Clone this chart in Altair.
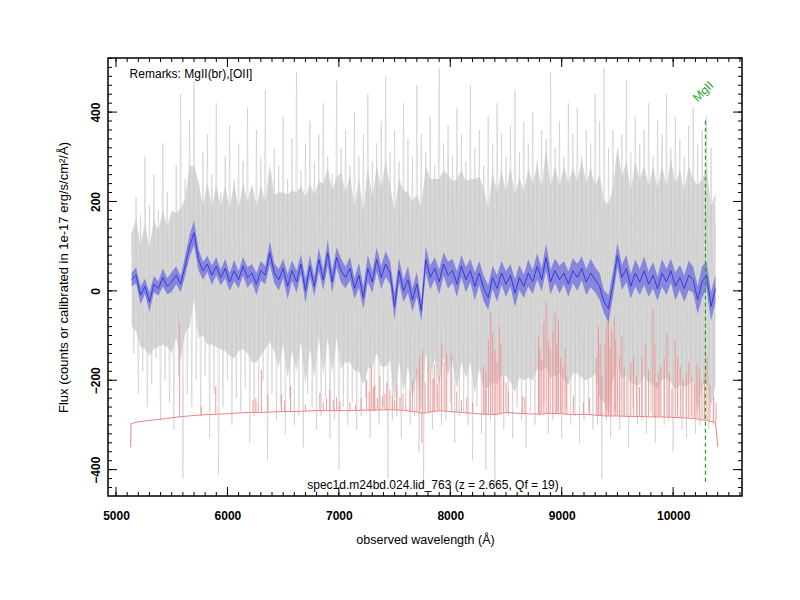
import altair as alt
import numpy as np
import pandas as pd

# ---------------- data ----------------
# smoothed flux (blue), 40 A grid from 5140 to 10380
blue_wave = list(range(5140, 10381, 40))
blue_flux = [
    25, 35, -10, 10, -25, 15, 5, 30, 10, 20,
    35, 15, 55, 100, 130, 70, 45, 60, 35, 55,
    30, 50, 20, 45, 25, 55, 30, 40, 15, 45,
    35, 85, 40, 25, 50, 10, 45, 20, 60, 0,
    55, 10, 70, 25, 85, 20, 75, 45, 30, 50,
    5, 35, -15, 50, 20, 70, 30, 60, 40, -35,
    45, 0, 25, -20, 15, -45, 70, 30, 50, 20,
    60, 35, 45, 15, 55, 25, 45, 10, 40, 5,
    -15, 30, 5, 40, 15, 35, -5, 30, 10, 40,
    20, 55, 25, 75, 20, 45, 25, 40, 15, 45,
    30, 50, 20, 40, 25, 10, -25, -40, 15, 80,
    30, 50, 10, 40, 20, 45, 15, 35, 5, 40,
    20, 45, 10, 30, 5, 35, 25, -20, 20, 35,
    -35, 5,
]
blue_err = [
    15, 18, 20, 17, 22, 18, 16, 20, 18, 22,
    20, 18, 22, 25, 28, 24, 20, 18, 22, 20,
    18, 22, 20, 24, 19, 21, 23, 20, 25, 22,
    20, 26, 22, 24, 21, 28, 23, 25, 22, 27,
    24, 22, 26, 23, 28, 25, 22, 27, 24, 26,
    23, 28, 25, 30, 24, 27, 26, 29, 25, 30,
    27, 25, 30, 26, 28, 24, 29, 27, 25, 28,
    26, 30, 27, 29, 25, 28, 26, 31, 27, 29,
    28, 26, 30, 27, 29, 25, 31, 28, 26, 30,
    27, 29, 26, 30, 28, 27, 31, 26, 29, 28,
    30, 27, 29, 32, 28, 30, 26, 31, 29, 27,
    28, 31, 27, 30, 29, 32, 28, 30, 27, 31,
    29, 27, 31, 28, 30, 33, 29, 31, 35, 30,
    32, 30,
]
# raw-spectrum error band half width (grey core), same grid
grey_err = [
    105, 125, 115, 140, 120, 145, 130, 150, 135, 160,
    140, 170, 150, 180, 150, 175, 145, 180, 155, 180,
    160, 185, 165, 195, 160, 185, 170, 200, 175, 190,
    165, 200, 175, 195, 170, 205, 180, 200, 175, 210,
    185, 205, 175, 215, 190, 205, 180, 220, 190, 210,
    185, 215, 195, 225, 190, 210, 200, 230, 195, 215,
    205, 225, 195, 220, 200, 235, 210, 220, 200, 230,
    210, 225, 200, 235, 215, 220, 205, 240, 215, 225,
    200, 235, 215, 230, 205, 240, 220, 225, 210, 235,
    220, 230, 205, 245, 215, 235, 210, 240, 225, 230,
    215, 245, 220, 235, 210, 250, 225, 235, 215, 245,
    225, 240, 215, 250, 230, 235, 220, 245, 225, 240,
    215, 250, 230, 240, 220, 245, 225, 255, 230, 240,
    225, 215,
]

# raw flux (light grey), 20 A grid from 5140 to 10380
raw_wave = list(range(5140, 10381, 20))
raw_flux = [
    130, -140, 210, -230, 170, -180, 300, -260, 190, -210,
    260, -150, 180, -290, 330, -200, 220, -250, 160, -310,
    280, -190, 440, -420, 250, -230, 380, -260, 470, -200,
    240, -280, 310, -190, 350, -330, 260, -230, 420, -410,
    220, -260, 300, -200, 370, -300, 250, -240, 330, -270,
    290, -220, 410, -340, 230, -280, 360, -250, 300, -200,
    450, -380, 260, -230, 320, -290, 280, -260, 390, -320,
    250, -240, 340, -300, 490, -280, 270, -350, 330, -230,
    380, -260, 290, -310, 350, -280, 420, -240, 300, -330,
    260, -290, 470, -400, 320, -260, 360, -300, 280, -250,
    400, -310, 300, -280, 350, -240, 440, -330, 290, -270,
    330, -300, 380, -260, 480, -420, 310, -290, 360, -280,
    290, -330, 420, -250, 340, -300, 300, -280, 460, -360,
    350, -430, 310, -270, 390, -310, 280, -260, 500, -300,
    330, -290, 370, -250, 300, -340, 410, -280, 350, -270,
    290, -300, 460, -380, 320, -260, 360, -320, 280, -400,
    390, -290, 330, -430, 420, -270, 350, -310, 300, -280,
    370, -330, 450, -260, 310, -290, 380, -350, 330, -270,
    400, -300, 290, -280, 360, -250, 340, -320, 490, -290,
    320, -270, 380, -330, 300, -260, 420, -300, 350, -280,
    410, -340, 300, -290, 360, -270, 330, -310, 440, -300,
    380, -420, 500, -290, 320, -330, 360, -270, 300, -310,
    350, -280, 470, -350, 310, -260, 390, -300, 330, -290,
    360, -320, 420, -270, 300, -340, 380, -280, 350, -300,
    440, -290, 320, -360, 390, -270, 340, -310, 300, -330,
    370, -280, 410, -320, 330, -300, 360, -290, 390, -310,
    320, -300, 150,
]

# sky spectrum (red): continuum and emission lines
sky_wave = ([5131, 5135] + list(range(5200, 7701, 100)) + [7750]
            + list(range(7800, 10301, 100)) + [10380, 10402])
sky_base = [
    -350, -297,
    -293, -290, -287, -284, -281, -279, -277, -276, -275, -273,
    -272, -272, -271, -270, -270, -269, -268, -268, -268, -268,
    -267, -267, -266, -266, -268, -271,
    -274,
    -272, -268, -270, -272, -274, -276, -277, -272, -274, -275,
    -276, -274, -275, -277, -276, -278, -280, -280, -281, -281,
    -282, -282, -283, -284, -286, -290,
    -294, -350,
]
line_wave = [
    5571, 5766, 5895, 6230, 6255, 6275, 6305, 6362, 6485, 6514,
    6566, 6700, 6829, 6860, 6889, 6919, 6950, 6980, 7010, 7099,
    7150, 7249, 7272, 7294, 7323, 7345, 7368, 7390, 7413, 7458,
    7500, 7548, 7600, 7638, 7745, 7752, 7773, 7802, 7847, 7883,
    7923, 7968, 8013, 8058, 8100, 8148, 8200, 8297, 8311, 8342,
    8363, 8401, 8440, 8476, 8521, 8650, 8670, 8791, 8821, 8860,
    8896, 8941, 8971, 9010, 9046, 9105, 9195, 9250, 9330, 9360,
    9390, 9420, 9450, 9471, 9500, 9540, 9585, 9645, 9698, 9750,
    9818, 9854, 9890, 9944, 9989, 10019, 10064, 10118, 10169, 10214,
    10259, 10304, 10364,
    7200, 7310, 7430, 7480, 7520, 7575, 7660, 7700, 7725, 7820,
    7860, 7900, 7945, 8320, 8380, 8420, 8455, 8500, 8805, 8840,
    8880, 8920, 8955, 8990, 9030, 9310, 9345, 9405, 9435, 9485,
    9520, 9560, 9620, 9670, 9720, 9780, 9835, 9870, 9920, 9965,
    10040, 10090, 10140, 10190, 10235, 10280, 10330, 10385,
]
line_top = [
    -72, -259, -214, -245, -240, -250, -177, -232, -231, -245,
    -213, -255, -229, -250, -240, -222, -245, -238, -248, -250,
    -255, -199, -225, -169, -210, -240, -192, -235, -230, -222,
    -245, -238, -250, -222, -340, -132, -205, -158, -197, -210,
    -117, -140, -140, -225, -245, -238, -250, -169, -222, -110,
    -50, -132, -80, -192, -225, -235, -238, -102, -155, -25,
    -132, -50, -65, -169, -192, -236, -250, -240, -80, -192,
    -117, -20, -87, -57, -169, -102, -192, -147, -215, -117,
    -40, -205, -169, -95, -220, -110, -169, -182, -192, -161,
    -205, -147, -238,
    -240, -215, -205, -235, -210, -230, -200, -175, -150, -180,
    -165, -190, -160, -180, -95, -160, -120, -205, -130, -70,
    -110, -90, -120, -150, -130, -150, -120, -70, -130, -110,
    -150, -170, -160, -190, -150, -175, -120, -185, -150, -185,
    -150, -200, -160, -210, -175, -190, -210, -250,
]
line_base = [
    -283, -278, -276, -272, -272, -272, -272, -271, -270, -270,
    -270, -269, -268, -268, -268, -268, -268, -268, -268, -268,
    -268, -267, -267, -267, -267, -267, -266, -266, -266, -266,
    -266, -266, -268, -270, -273, -273, -273, -272, -270, -269,
    -268, -268, -270, -270, -272, -272, -274, -276, -276, -277,
    -277, -277, -275, -272, -272, -274, -274, -276, -276, -275,
    -274, -274, -275, -275, -276, -277, -276, -277, -278, -278,
    -279, -279, -280, -280, -280, -280, -281, -281, -281, -281,
    -282, -282, -282, -282, -283, -283, -283, -284, -284, -285,
    -286, -289, -292,
    -267, -267, -266, -266, -266, -267, -270, -271, -272, -272,
    -270, -268, -268, -276, -277, -277, -275, -272, -276, -276,
    -275, -274, -274, -275, -276, -278, -278, -279, -280, -280,
    -280, -280, -281, -281, -281, -282, -282, -282, -282, -283,
    -283, -284, -284, -285, -286, -287, -290, -294,
]

# MgII marker
mg_wave = [10290]
mg_lo = [-427]
mg_hi = [386]

# axis ticks
x_major = [5000, 6000, 7000, 8000, 9000, 10000]
x_minor = list(range(5000, 10601, 100))
y_major = [-400, -200, 0, 200, 400]
y_minor = list(range(-440, 521, 20))

# ---------------- build tables ----------------
bw = np.array(blue_wave)
bf = np.array(blue_flux, dtype=float)
df_blue = pd.DataFrame({
    "wave": bw, "flux": bf,
    "lo": bf - np.array(blue_err), "hi": bf + np.array(blue_err),
    "glo": bf - np.array(grey_err), "ghi": bf + np.array(grey_err),
})
df_raw = pd.DataFrame({"wave": raw_wave, "flux": raw_flux})
df_sky = pd.DataFrame({"wave": sky_wave, "flux": sky_base})
df_lines = pd.DataFrame({"wave": line_wave, "top": line_top, "base": line_base})
df_mg = pd.DataFrame({"wave": mg_wave, "lo": mg_lo, "hi": mg_hi})

W, H = 634, 438
FONT = "Liberation Sans"
xscale = alt.Scale(domain=[4928, 10618], nice=False, zero=False)
yscale = alt.Scale(domain=[-459, 521], nice=False, zero=False)

x_axis = alt.Axis(values=x_major, format="d", labelFont=FONT, labelFontWeight="bold",
                  labelFontSize=12, labelColor="black", ticks=False, tickSize=0, domain=False,
                  grid=False, labelPadding=14, title="observed wavelength (Å)",
                  titleFont=FONT, titleFontWeight="normal", titleFontSize=12.5,
                  titleColor="black", titlePadding=12)
y_axis = alt.Axis(values=y_major, format="d", labelFont=FONT, labelFontWeight="bold",
                  labelFontSize=12, labelColor="black", labelAngle=270, labelAlign="center",
                  labelBaseline="bottom", ticks=False, tickSize=0, domain=False, grid=False,
                  labelPadding=6, title="Flux (counts or calibrated in 1e-17 erg/s/cm²/Å)",
                  titleFont=FONT, titleFontWeight="normal", titleFontSize=13,
                  titleColor="black", titlePadding=19)


def X(field):
    return alt.X(f"{field}:Q", scale=xscale, axis=x_axis)


def Y(field):
    return alt.Y(f"{field}:Q", scale=yscale, axis=y_axis)


grey = alt.Chart(df_blue).mark_area(color="#d8d8d8", clip=True).encode(
    x=X("wave"), y=Y("glo"), y2="ghi")
raw = alt.Chart(df_raw).mark_line(color="#c8c8c8", strokeWidth=0.8, opacity=0.7, clip=True).encode(
    x=X("wave"), y=Y("flux"))
sky = alt.Chart(df_sky).mark_line(color="#ec7272", strokeWidth=0.9, clip=True).encode(
    x=X("wave"), y=Y("flux"))
skylines = alt.Chart(df_lines).mark_rule(color="#f29090", strokeWidth=0.9, clip=True).encode(
    x=X("wave"), y=Y("base"), y2="top")
band = alt.Chart(df_blue).mark_area(color="#6c6ce0", opacity=0.75, clip=True).encode(
    x=X("wave"), y=Y("lo"), y2="hi")
blue = alt.Chart(df_blue).mark_line(color="#3030d8", strokeWidth=0.9, clip=True).encode(
    x=X("wave"), y=Y("flux"))
mg = alt.Chart(df_mg).mark_rule(color="#1fa51f", strokeWidth=1.2, strokeDash=[4, 3],
                                opacity=1).encode(
    x=X("wave"), y=Y("lo"), y2="hi")

txt = pd.DataFrame({
    "wave": [5122, 7845, 10270],
    "flux": [486, -434, 446],
    "label": ["Remarks: MgII(br),[OII]", "spec1d.m24bd.024.lid_763 (z = 2.665, Qf = 19)", "MgII"],
})
t_rem = alt.Chart(txt.iloc[[0]]).mark_text(align="left", baseline="middle", font=FONT,
                                           fontSize=12, color="black").encode(
    x=X("wave"), y=Y("flux"), text="label:N")
t_id = alt.Chart(txt.iloc[[1]]).mark_text(align="center", baseline="middle", font=FONT,
                                          fontSize=12, color="black").encode(
    x=X("wave"), y=Y("flux"), text="label:N")
t_mg = alt.Chart(txt.iloc[[2]]).mark_text(align="center", baseline="middle", font=FONT,
                                          fontSize=12, color="#1fa51f", angle=315).encode(
    x=X("wave"), y=Y("flux"), text="label:N")

dxm = pd.DataFrame({"wave": x_minor})
dxM = pd.DataFrame({"wave": x_major})
dym = pd.DataFrame({"flux": y_minor})
dyM = pd.DataFrame({"flux": y_major})
tk = dict(color="black", strokeWidth=1)
ticks = [
    alt.Chart(dxm).mark_rule(**tk).encode(x=X("wave"), y=alt.value(H), y2=alt.value(H - 4)),
    alt.Chart(dxm).mark_rule(**tk).encode(x=X("wave"), y=alt.value(0), y2=alt.value(4)),
    alt.Chart(dxM).mark_rule(**tk).encode(x=X("wave"), y=alt.value(H), y2=alt.value(H - 9)),
    alt.Chart(dxM).mark_rule(**tk).encode(x=X("wave"), y=alt.value(0), y2=alt.value(9)),
    alt.Chart(dym).mark_rule(**tk).encode(y=Y("flux"), x=alt.value(0), x2=alt.value(4)),
    alt.Chart(dym).mark_rule(**tk).encode(y=Y("flux"), x=alt.value(W), x2=alt.value(W - 4)),
    alt.Chart(dyM).mark_rule(**tk).encode(y=Y("flux"), x=alt.value(0), x2=alt.value(9)),
    alt.Chart(dyM).mark_rule(**tk).encode(y=Y("flux"), x=alt.value(W), x2=alt.value(W - 9)),
]

chart = alt.layer(grey, raw, sky, skylines, band, blue, mg, t_rem, t_id, t_mg, *ticks).properties(
    width=W, height=H,
    autosize=alt.AutoSizeParams(type="none"),
    padding={"left": 100, "top": 50, "right": 40, "bottom": 90},
    background="white",
).configure_view(stroke="black", strokeWidth=1.5)

chart.save("out.html", embed_options={"renderer": "svg", "actions": False})
